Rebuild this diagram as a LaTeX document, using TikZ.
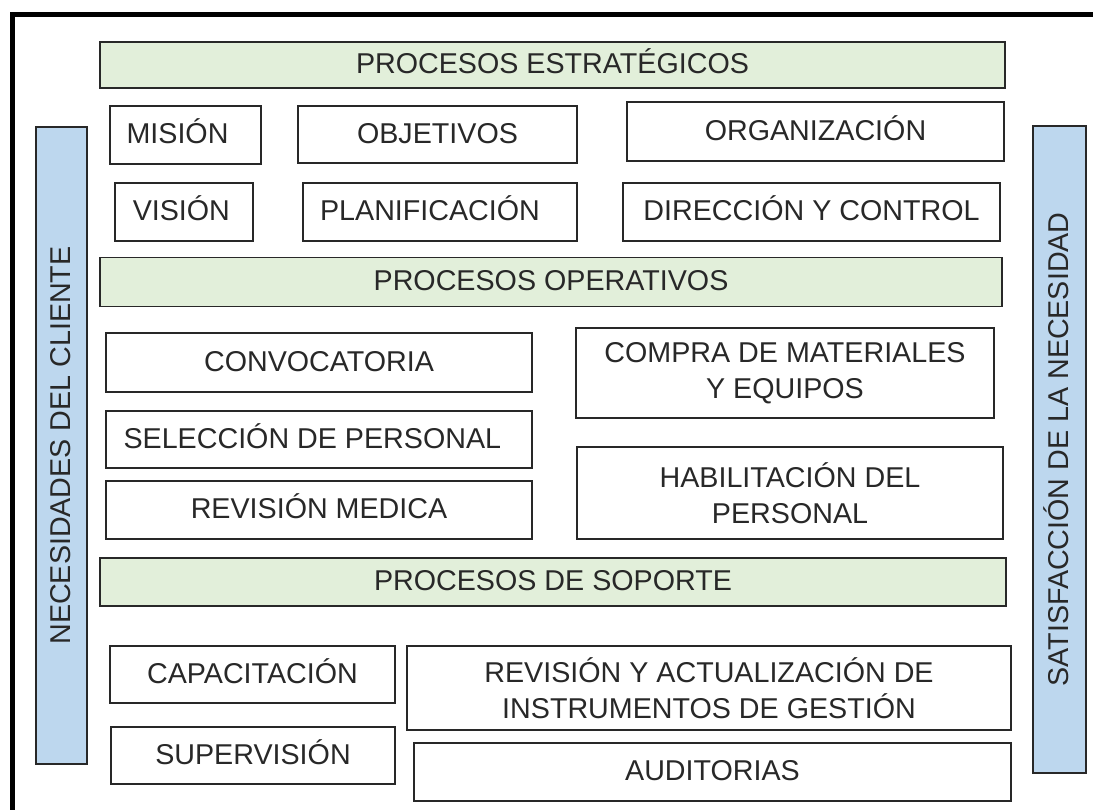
\documentclass[tikz,border=0pt]{standalone}
\usepackage{fontspec}
\setmainfont{Liberation Sans}
\usepackage{xcolor}
\definecolor{palegreen}{RGB}{226,239,218}
\definecolor{paleblue}{RGB}{189,215,238}
\definecolor{inkgray}{RGB}{40,40,40}
\tikzset{%
    wh/.style 2 args={minimum width=#1*0.75pt, minimum height=#2*0.75pt},
    proc/.style={draw=inkgray, line width=0.8pt, fill=white, inner sep=0pt,
        align=center, text=inkgray, font=\fontsize{21.5}{27}\selectfont},
    oneline/.style={proc, text height=15.4pt, text depth=2.5pt},
    header/.style={oneline, fill=palegreen},
    sidebar/.style={oneline, fill=paleblue, rotate=90}
}
\begin{document}
\begin{tikzpicture}[x=0.75pt, y=-0.75pt]
    \useasboundingbox (0,0) rectangle (1093,810);
    \draw[line width=3.75pt] (12,810) -- (12,14.5) -- (1093,14.5);
%-----------------------------------------------
    \node[sidebar, wh={637}{51}] (cliente) at (61.5,445.5) {NECESIDADES DEL CLIENTE};
    \node[sidebar, wh={647}{53}] (satisf) at (1059.5,449.5) {SATISFACCIÓN DE LA NECESIDAD};
%-----------------------------------------------
    \node[header, wh={905}{46}] (estrat) at (552.5,65) {PROCESOS ESTRATÉGICOS};
    \node[oneline, wh={151}{58}] (mision) at (185.5,135) {MISIÓN\hspace*{12pt}};
    \node[oneline, wh={279}{57}] (objetivos) at (437.5,134.5) {OBJETIVOS};
    \node[oneline, wh={377}{59}] (organiz) at (815.5,131.5) {ORGANIZACIÓN};
    \node[oneline, wh={138}{58}] (vision) at (184,212) {VISIÓN\hspace*{4pt}};
    \node[oneline, wh={274}{58}] (planif) at (440,212) {PLANIFICACIÓN\hspace*{15pt}};
    \node[oneline, wh={377}{58}] (direcc) at (811.5,212) {DIRECCIÓN Y CONTROL};
%-----------------------------------------------
    \node[header, wh={902}{49}] (operat) at (551,282) {PROCESOS OPERATIVOS};
    \node[oneline, wh={426}{59}] (convoc) at (319,362.5) {CONVOCATORIA};
    \node[oneline, wh={426}{57}] (selecc) at (319,439.5) {SELECCIÓN DE PERSONAL\hspace*{10pt}};
    \node[oneline, wh={426}{58}] (revmed) at (319,510) {REVISIÓN MEDICA};
    \node[proc, wh={418}{90}] (compra) at (785,373) {COMPRA DE MATERIALES\\Y EQUIPOS};
    \node[proc, wh={426}{92}] (habilit) at (790,493) {HABILITACIÓN DEL\\PERSONAL};
%-----------------------------------------------
    \node[header, wh={906}{48}] (soporte) at (553,582) {PROCESOS DE SOPORTE};
    \node[oneline, wh={285}{57}] (capacit) at (252.5,674.5) {CAPACITACIÓN};
    \node[oneline, wh={284}{57}] (superv) at (253,755.5) {SUPERVISIÓN};
    \node[proc, wh={604}{84}] (revact) at (709,688) {REVISIÓN Y ACTUALIZACIÓN DE\\INSTRUMENTOS DE GESTIÓN};
    \node[oneline, wh={597}{58}] (audit) at (712.5,772) {AUDITORIAS};
\end{tikzpicture}
\end{document}
